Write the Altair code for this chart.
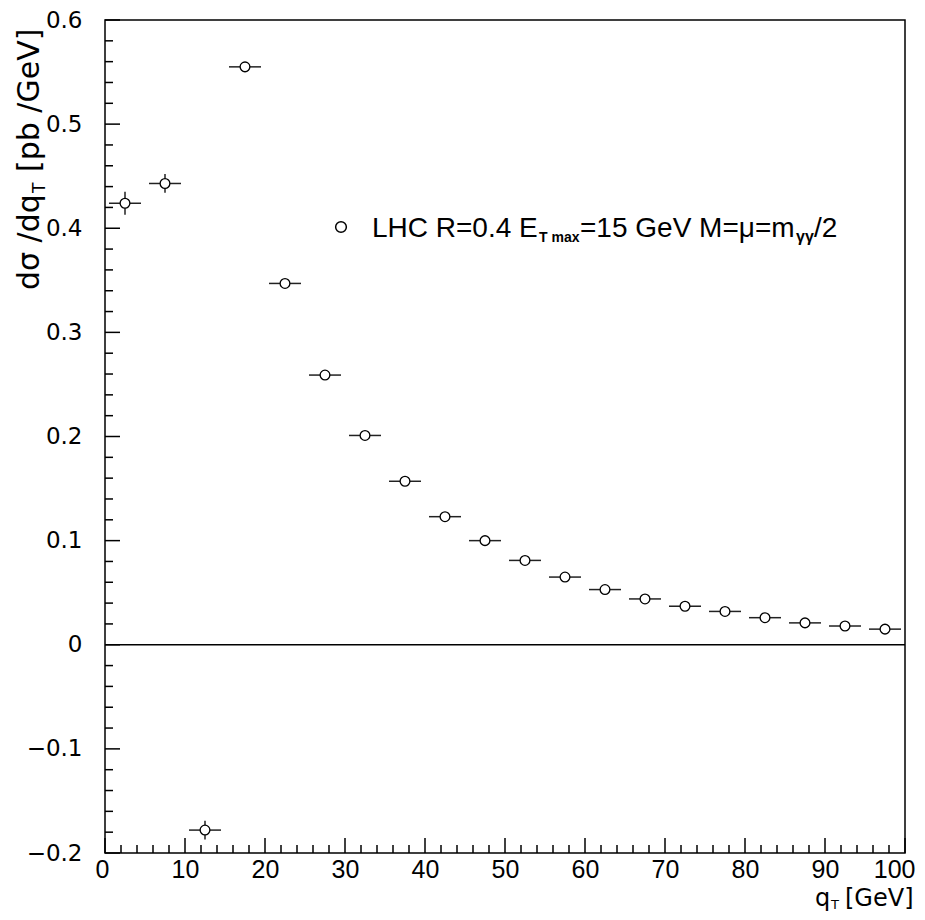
import altair as alt
import pandas as pd

# ---- data ----
qt = [2.5, 7.5, 12.5, 17.5, 22.5, 27.5, 32.5, 37.5, 42.5, 47.5,
      52.5, 57.5, 62.5, 67.5, 72.5, 77.5, 82.5, 87.5, 92.5, 97.5]
dsig = [0.424, 0.443, -0.178, 0.555, 0.347, 0.259, 0.201, 0.157, 0.123, 0.100,
        0.081, 0.065, 0.053, 0.044, 0.037, 0.032, 0.026, 0.021, 0.018, 0.015]
yerr = [0.011, 0.009, 0.009, 0.004, 0.003, 0.003, 0.002, 0.002, 0.002, 0.002,
        0.002, 0.001, 0.001, 0.001, 0.001, 0.001, 0.001, 0.001, 0.001, 0.001]
xerr = [2.0] * len(qt)

x_labels = [0, 10, 20, 30, 40, 50, 60, 70, 80, 90, 100]
y_labels = [-0.2, -0.1, 0.0, 0.1, 0.2, 0.3, 0.4, 0.5, 0.6]
x_minor = [v for v in range(0, 101, 2) if v % 10 != 0]
y_minor = [round(-0.2 + 0.02 * i, 2) for i in range(41) if i % 5 != 0]

df = pd.DataFrame({"qt": qt, "y": dsig})
df["xlo"] = [a - b for a, b in zip(qt, xerr)]
df["xhi"] = [a + b for a, b in zip(qt, xerr)]
df["ylo"] = [a - b for a, b in zip(dsig, yerr)]
df["yhi"] = [a + b for a, b in zip(dsig, yerr)]

W, H = 800, 833
xs = alt.Scale(domain=[0, 100], nice=False, zero=False)
ys = alt.Scale(domain=[-0.2, 0.6], nice=False, zero=False)

FONT = "DejaVu Sans"
LFONT = "Liberation Sans"

base = alt.Chart(df)

# invisible layer carrying the axes (labels only)
axes = alt.Chart(pd.DataFrame({"qt": [0, 100], "y": [-0.2, 0.6]})).mark_point(opacity=0).encode(
    x=alt.X("qt:Q", scale=xs, title=None,
            axis=alt.Axis(values=x_labels, ticks=False, tickSize=0, domain=False, grid=False,
                          labelFont=LFONT, labelFontSize=25, labelColor="black",
                          labelPadding=4, labelFlush=True, labelFlushOffset=10,
                          labelOverlap=False)),
    y=alt.Y("y:Q", scale=ys, title=None,
            axis=alt.Axis(values=y_labels, ticks=False, tickSize=0, domain=False, grid=False,
                          labelFont=FONT, labelFontSize=23, labelColor="black",
                          labelPadding=23, labelFlush=False, labelOverlap=False,
                          labelExpr="datum.value == 0 ? '0' : format(datum.value, '.1f')")),
)

# ticks (inside)
ymaj = alt.Chart(pd.DataFrame({"v": y_labels})).mark_rule(color="black", strokeWidth=1.5).encode(
    y=alt.Y("v:Q", scale=ys), x=alt.value(0), x2=alt.value(15))
ymin = alt.Chart(pd.DataFrame({"v": y_minor})).mark_rule(color="black", strokeWidth=1.5).encode(
    y=alt.Y("v:Q", scale=ys), x=alt.value(0), x2=alt.value(8))
xmaj = alt.Chart(pd.DataFrame({"v": x_labels})).mark_rule(color="black", strokeWidth=1.5).encode(
    x=alt.X("v:Q", scale=xs), y=alt.value(H), y2=alt.value(H - 15))
xmin = alt.Chart(pd.DataFrame({"v": x_minor})).mark_rule(color="black", strokeWidth=1.5).encode(
    x=alt.X("v:Q", scale=xs), y=alt.value(H), y2=alt.value(H - 8))

zero = alt.Chart(pd.DataFrame({"v": [0.0]})).mark_rule(color="black", strokeWidth=1.5).encode(
    y=alt.Y("v:Q", scale=ys), x=alt.value(0), x2=alt.value(W))

hbar = base.mark_rule(color="#222", strokeWidth=1.5).encode(
    x=alt.X("xlo:Q", scale=xs), x2="xhi:Q", y=alt.Y("y:Q", scale=ys))
vbar = base.mark_rule(color="#222", strokeWidth=1.5).encode(
    x=alt.X("qt:Q", scale=xs), y=alt.Y("ylo:Q", scale=ys), y2="yhi:Q")
pts = base.mark_point(shape="circle", filled=True, fill="white", stroke="black",
                      strokeWidth=1.3, size=95, opacity=1).encode(
    x=alt.X("qt:Q", scale=xs), y=alt.Y("y:Q", scale=ys))

one = pd.DataFrame({"a": [0]})


def txt(s, x, y, size, font=FONT, align="left", angle=0, weight="normal", baseline="alphabetic"):
    kw = dict(text=s, font=font, fontSize=size, align=align, baseline=baseline,
              color="black", fontWeight=weight)
    if angle:
        kw["angle"] = angle
    return alt.Chart(one).mark_text(**kw).encode(x=alt.value(x), y=alt.value(y))


# legend
leg_pt = alt.Chart(one).mark_point(shape="circle", filled=True, fill="white", stroke="black",
                                   strokeWidth=1.5, size=115, opacity=1).encode(
    x=alt.value(236), y=alt.value(207))
legend = [
    txt("LHC R=0.4 E", 267, 217, 28, font=LFONT),
    txt("T max", 434, 222, 14, font=LFONT, weight="bold"),
    txt("=15 GeV M=\u03bc=m", 475, 217, 28, font=LFONT),
    txt("\u03b3\u03b3", 691, 222, 16, font=LFONT, weight="bold"),
    txt("/2", 709, 217, 28, font=LFONT),
]

# x title
xtitle = [
    txt("q", 710, 886, 24),
    txt("T", 726, 889, 13),
    txt("[GeV]", 740, 886, 24),
]

# y title (rotated, reads bottom to top)
ytitle = [
    txt("d\u03c3 /dq", -66, 270, 30, angle=270),
    txt("T", -60, 173, 17, angle=270),
    txt("[pb /GeV]", -66, 152, 30, angle=270),
]

chart = alt.layer(
    axes, ymaj, ymin, xmaj, xmin, zero, hbar, vbar, pts, leg_pt, *legend, *xtitle, *ytitle
).properties(
    width=W, height=H,
    padding={"left": 97, "top": 12, "right": 12, "bottom": 59},
    autosize=alt.AutoSizeParams(type="none"),
    background="white",
).configure_view(stroke="black", strokeWidth=1.5)

chart.save("out.html", embed_options={"renderer": "svg", "actions": False})
